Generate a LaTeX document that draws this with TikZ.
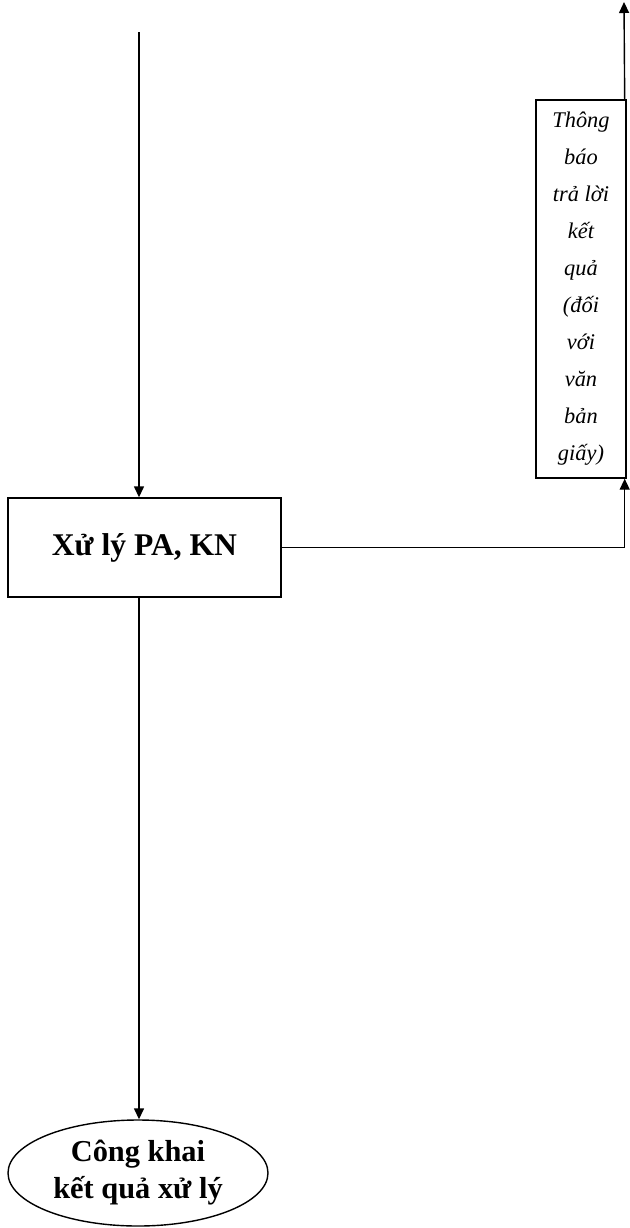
\documentclass[tikz,border=0pt]{standalone}
\usepackage{fontspec}
\setmainfont{Liberation Serif}
\usetikzlibrary{shapes.geometric, arrows.meta, positioning}

\begin{document}
\begin{tikzpicture}[
    x=0.5pt, y=-0.5pt,
    procbox/.style={rectangle, draw, line width=0.7pt, minimum width=136.5pt, minimum height=49.5pt, align=center, font=\fontsize{15.8}{18}\selectfont\bfseries},
    notebox/.style={rectangle, draw, line width=0.7pt, minimum width=45pt, minimum height=189pt, inner sep=0pt, align=center, font=\fontsize{11.2}{18.5}\selectfont\itshape},
    endnode/.style={ellipse, draw, line width=0.7pt, minimum width=130pt, minimum height=53pt, inner sep=0pt, align=center, font=\fontsize{15.2}{18.5}\selectfont\bfseries},
    arr/.style={-{Triangle[length=5.5pt, width=5pt]}, line width=0.7pt}
]
    \useasboundingbox (0,0) rectangle (630,1228);
    \coordinate (in) at (139,32);
    \coordinate (out) at (624,2);
    \node (xuly) [procbox] at (144.5,547.5) {Xử lý PA, KN};
    \node (tb) [notebox] at (581,289) {Thông\\báo\\trả lời\\kết\\quả\\(đối\\với\\văn\\bản\\giấy)};
    \node (ck) [endnode] at (138,1173) {Công khai\\kết quả xử lý};

    \draw[arr] (in) -- (in |- xuly.north);
    \draw[arr] (xuly.east) -| ([xshift=-1pt]tb.south east);
    \draw[arr] ([xshift=-1pt]tb.north east) -- (out);
    \draw[arr] (in |- xuly.south) -- (in |- ck.north);
\end{tikzpicture}
\end{document}
